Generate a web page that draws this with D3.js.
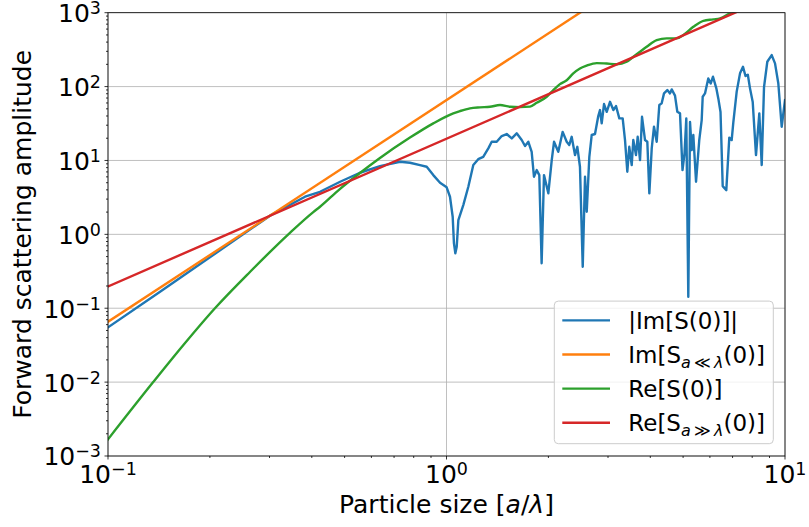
<!DOCTYPE html>
<html>
<head>
<meta charset="utf-8">
<script src="https://cdn.jsdelivr.net/npm/d3@7"></script>
<style>
  body { margin: 0; background: #fff; }
  text { font-family: "DejaVu Sans", sans-serif; fill: #000; }
</style>
</head>
<body>
<svg width="809" height="527"></svg>
<script>
// ---- data ----
const xBlue = [0.100, 0.1425, 0.200, 0.301, 0.382, 0.423, 0.485, 0.555, 0.636, 0.729, 0.780, 0.835, 0.874, 0.914, 0.957,
  1.001, 1.024, 1.043, 1.052, 1.062, 1.072, 1.084, 1.121, 1.160, 1.200, 1.241, 1.284, 1.329, 1.360, 1.407, 1.456,
  1.506, 1.559, 1.612, 1.668, 1.706, 1.745, 1.785, 1.813, 1.847, 1.880, 1.910, 1.941, 1.999, 2.046, 2.078, 2.139,
  2.204, 2.265, 2.305, 2.343, 2.397, 2.435, 2.479, 2.526, 2.566, 2.596, 2.642, 2.685, 2.746, 2.808, 2.841, 2.874,
  2.920, 2.974, 3.041, 3.111, 3.168, 3.240, 3.315, 3.368, 3.421, 3.467, 3.525, 3.563, 3.629, 3.671, 3.730, 3.781,
  3.859, 3.920, 3.974, 4.039, 4.102, 4.178, 4.253, 4.322, 4.391, 4.491, 4.574, 4.627, 4.732, 4.807, 4.896, 4.980,
  5.049, 5.110, 5.180, 5.241, 5.302, 5.360, 5.460, 5.581, 5.674, 5.713, 5.803, 5.934, 6.032, 6.128, 6.266, 6.353,
  6.449, 6.546, 6.708, 6.846, 6.958, 7.035, 7.199, 7.364, 7.515, 7.644, 7.765, 7.882, 8.029, 8.210, 8.397, 8.535,
  8.670, 8.866, 9.135, 9.344, 9.556, 9.777, 10.0];
const yBlue = [0.0551, 0.167, 0.489, 1.79, 3.23, 3.77, 5.15, 6.82, 8.40, 9.60, 9.31, 8.66, 8.22, 6.34, 4.99,
  4.33, 3.23, 1.73, 0.755, 0.553, 0.679, 1.56, 2.49, 4.41, 8.66, 10.4, 11.2, 14.6, 17.9, 17.9, 21.4,
  22.8, 19.9, 23.3, 18.9, 15.7, 17.9, 13.1, 6.02, 7.41, 6.34, 0.406, 6.34, 3.59, 10.1, 17.9, 13.1,
  24.4, 17.9, 16.2, 20.9, 11.8, 15.3, 8.22, 0.365, 6.02, 2.02, 11.2, 22.1, 22.8, 39.9, 48.1, 31.8,
  58.0, 45.6, 62.3, 48.1, 54.5, 37.1, 37.1, 18.9, 7.03, 15.3, 8.66, 18.9, 11.8, 20.9, 10.1, 39.0,
  18.9, 17.9, 3.59, 14.6, 28.6, 17.9, 56.2, 59.3, 80.9, 89.7, 80.9, 91.6, 75.5, 45.6, 43.4, 7.41,
  12.6, 37.1, 0.143, 33.1, 13.8, 22.1, 5.15, 18.9, 35.2, 72.8, 80.9, 129, 110, 136, 95.5, 69.2,
  45.2, 4.50, 3.97, 20.4, 18.9, 32.6, 85.5, 151, 185, 139, 145, 94.6, 61.7, 11.8, 43.4, 8.66,
  98.4, 217, 267, 206, 110, 28.6, 65.6];

const xGreen = [0.100, 0.136, 0.167, 0.207, 0.263, 0.341, 0.404, 0.423, 0.484, 0.555, 0.636, 0.780, 0.914, 1.047,
  1.096, 1.173, 1.256, 1.344, 1.439, 1.541, 1.649, 1.765, 1.847, 1.977, 2.068, 2.163, 2.265, 2.369, 2.479, 2.594,
  2.778, 2.973, 3.184, 3.407, 3.565, 3.731, 3.903, 4.178, 4.473, 4.786, 5.008, 5.36, 5.74, 6.14, 6.43, 6.88, 8.0, 10.0];
const yGreen = [0.00168, 0.0100, 0.0318, 0.100, 0.312, 1.00, 2.00, 2.36, 4.10, 6.76, 10.8, 20.4, 31.8, 43.4,
  46.6, 50.7, 52.3, 53.3, 56.2, 53.3, 52.8, 53.6, 60.4, 72.8, 89.7, 108, 122, 151, 176, 192,
  208, 205, 201, 217, 253, 296, 346, 426, 449, 449, 498, 644, 777, 811, 837, 979, 1300, 1700];

// straight asymptotes: end points
const xOrange = [0.1, 10];
const yOrange = [0.0656, 65600];
const xRed = [0.1, 10];
const yRed = [0.197, 1974];

const xMajor = [0.1, 1, 10];
const xMajorExp = ['\u22121', '0', '1'];
const yMajor = [1e-3, 1e-2, 1e-1, 1, 1e1, 1e2, 1e3];
const yMajorExp = ['\u22123', '\u22122', '\u22121', '0', '1', '2', '3'];

const legendLabels = ['|Im[S(0)]|', 'Im[S_{a\u2009\u226a\u2009\u03bb}(0)]', 'Re[S(0)]', 'Re[S_{a\u2009\u226b\u2009\u03bb}(0)]'];
const colors = ['#1f77b4', '#ff7f0e', '#2ca02c', '#d62728'];

// ---- layout ----
const svg = d3.select('svg');
const margin = { top: 12.7, left: 108, right: 24, bottom: 71 };
const width = +svg.attr('width') - margin.left - margin.right;
const height = +svg.attr('height') - margin.top - margin.bottom;

const g = svg.append('g').attr('transform', `translate(${margin.left},${margin.top})`);

const x = d3.scaleLog().domain([0.1, 10]).range([0, width]);
const y = d3.scaleLog().domain([1e-3, 1e3]).range([height, 0]);

// grid
g.append('g').selectAll('line').data(xMajor).join('line')
  .attr('x1', d => x(d)).attr('x2', d => x(d)).attr('y1', 0).attr('y2', height)
  .attr('stroke', '#b0b0b0').attr('stroke-width', 0.8);
g.append('g').selectAll('line').data(yMajor).join('line')
  .attr('x1', 0).attr('x2', width).attr('y1', d => y(d)).attr('y2', d => y(d))
  .attr('stroke', '#b0b0b0').attr('stroke-width', 0.8);

// series
g.append('clipPath').attr('id', 'clip')
  .append('rect').attr('width', width).attr('height', height);

const line = d3.line().x(d => x(d[0])).y(d => y(d[1]));
const smooth = d3.line().curve(d3.curveMonotoneX).x(d => x(d[0])).y(d => y(d[1]));

const series = [
  { pts: d3.zip(xBlue, yBlue), gen: line },
  { pts: d3.zip(xOrange, yOrange), gen: line },
  { pts: d3.zip(xGreen, yGreen), gen: smooth },
  { pts: d3.zip(xRed, yRed), gen: line }
];

g.append('g').attr('clip-path', 'url(#clip)')
  .selectAll('path').data(series).join('path')
  .attr('d', d => d.gen(d.pts))
  .attr('fill', 'none')
  .attr('stroke', (d, i) => colors[i])
  .attr('stroke-width', 2.4)
  .attr('stroke-linejoin', 'round')
  .attr('stroke-linecap', 'square');

// spines
g.append('rect').attr('width', width).attr('height', height)
  .attr('fill', 'none').attr('stroke', '#000').attr('stroke-width', 0.8);

// ticks
const xMinor = x.ticks().filter(d => !xMajor.some(m => Math.abs(m - d) < 1e-9));
const yMinor = y.ticks().filter(d => !yMajor.some(m => Math.abs(m / d - 1) < 1e-6));

g.append('g').selectAll('line').data(xMajor.concat(xMinor)).join('line')
  .attr('x1', d => x(d)).attr('x2', d => x(d)).attr('y1', height)
  .attr('y2', (d, i) => height + (i < xMajor.length ? 3.5 : 2))
  .attr('stroke', '#000').attr('stroke-width', 0.8);
g.append('g').selectAll('line').data(yMajor.concat(yMinor)).join('line')
  .attr('y1', d => y(d)).attr('y2', d => y(d)).attr('x1', 0)
  .attr('x2', (d, i) => -(i < yMajor.length ? 3.5 : 2))
  .attr('stroke', '#000').attr('stroke-width', 0.8);

function powerLabel(sel, exps) {
  sel.each(function (d, i) {
    const t = d3.select(this);
    t.append('tspan').text('10');
    t.append('tspan').attr('dy', -8).style('font-size', '17.5px').text(exps[i]);
  });
}

g.append('g').selectAll('text').data(xMajor).join('text')
  .attr('x', d => x(d)).attr('y', height + 27)
  .attr('text-anchor', 'middle').style('font-size', '25px')
  .call(powerLabel, xMajorExp);

g.append('g').selectAll('text').data(yMajor).join('text')
  .attr('x', -7).attr('y', d => y(d) + 9.5)
  .attr('text-anchor', 'end').style('font-size', '25px')
  .call(powerLabel, yMajorExp);

// axis labels
const xl = g.append('text')
  .attr('x', width / 2).attr('y', height + 57)
  .attr('text-anchor', 'middle').style('font-size', '25px');
xl.append('tspan').text('Particle size [');
xl.append('tspan').style('font-style', 'italic').text('a');
xl.append('tspan').text('/');
xl.append('tspan').style('font-style', 'italic').text('\u03bb');
xl.append('tspan').text(']');

g.append('text')
  .attr('transform', `translate(-77,${height / 2}) rotate(-90)`)
  .attr('text-anchor', 'middle').style('font-size', '25px')
  .text('Forward scattering amplitude');

// legend
const legend = g.append('g').attr('transform', `translate(${width - 230.7},${height - 154.9})`);
legend.append('rect')
  .attr('width', 219).attr('height', 142.6).attr('rx', 4)
  .attr('fill', '#fff').attr('fill-opacity', 0.8)
  .attr('stroke', '#cccccc').attr('stroke-width', 1);

const rows = legend.selectAll('.row').data(legendLabels).join('g')
  .attr('transform', (d, i) => `translate(0,${19.3 + i * 34.1})`);
rows.append('line')
  .attr('x1', 8).attr('x2', 55.7)
  .attr('stroke', (d, i) => colors[i]).attr('stroke-width', 2.4);
rows.append('text')
  .attr('x', 74).attr('y', 8.4).style('font-size', '23px')
  .each(function (d) {
    const t = d3.select(this);
    const m = d.match(/^(.*)_\{(.*)\}(.*)$/);
    if (!m) { t.text(d); return; }
    t.append('tspan').text(m[1]);
    Array.from(m[2]).forEach((ch, k) => {
      const s = t.append('tspan').style('font-size', '16px').text(ch);
      if (k === 0) s.attr('dy', 5);
      if (ch === 'a' || ch === '\u03bb') s.style('font-style', 'italic');
    });
    t.append('tspan').attr('dy', -5).text(m[3]);
  });
</script>
</body>
</html>
